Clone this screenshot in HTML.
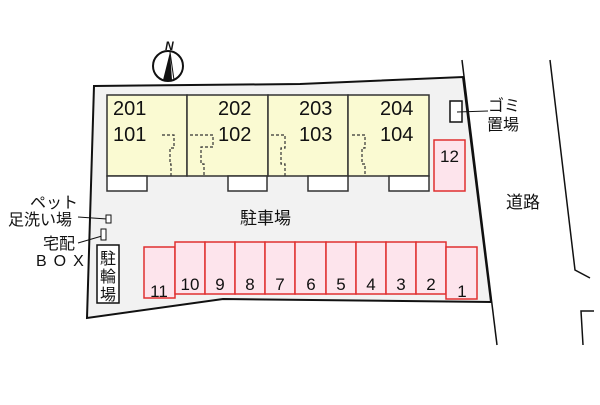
<!DOCTYPE html>
<html><head><meta charset="utf-8"><style>
body{margin:0;background:#fff}
svg text{font-family:"Liberation Sans","Noto Sans CJK JP",sans-serif;fill:#111}
</style></head><body>
<svg width="600" height="400" viewBox="0 0 600 400" xmlns="http://www.w3.org/2000/svg">
<polygon points="94,86 300,84 463,77 491,302 223,299 87,318" fill="#f2f2f2" stroke="#111" stroke-width="2"/>
<line x1="462" y1="60" x2="497" y2="345" stroke="#111" stroke-width="1.5"/>
<polyline points="550,60 575,270 590,278" fill="none" stroke="#111" stroke-width="1.5"/>
<polyline points="594,311 581,311 583,345" fill="none" stroke="#111" stroke-width="1.5"/>
<circle cx="168" cy="66" r="15" fill="#fff" stroke="#111" stroke-width="2"/>
<polygon points="170,52 163,80 172,80" fill="#111"/>
<line x1="170" y1="52" x2="174" y2="80" stroke="#111"/>
<text x="165" y="50" font-size="12" font-style="italic" font-weight="bold">N</text>
<g fill="#fafad2" stroke="#333" stroke-width="1.5">
<rect x="107" y="95" width="80" height="81"/><rect x="187" y="95" width="81" height="81"/>
<rect x="268" y="95" width="80" height="81"/><rect x="348" y="95" width="81" height="81"/>
</g>
<g fill="#fff" stroke="#333" stroke-width="1.5">
<rect x="107" y="176" width="40" height="15"/><rect x="228" y="176" width="39" height="15"/>
<rect x="308" y="176" width="40" height="15"/><rect x="389" y="176" width="40" height="15"/>
</g>
<g fill="none" stroke="#333" stroke-dasharray="3,2" stroke-width="1.2">
<path d="M162,135 H174 V148 H170 V164 H171 V176"/>
<path d="M190,135 H213 V147 H201 V164 H204 V176"/>
<path d="M271,135 H285 V148 H281 V164 H285 V176"/>
<path d="M352,135 H365 V148 H362 V164 H365 V176"/>
</g>
<g font-size="20">
<text x="113" y="115">201</text><text x="113" y="141">101</text>
<text x="218" y="115">202</text><text x="218" y="141">102</text>
<text x="299" y="115">203</text><text x="299" y="141">103</text>
<text x="380" y="115">204</text><text x="380" y="141">104</text>
</g>
<rect x="450" y="101" width="12" height="21" fill="#fff" stroke="#111" stroke-width="1.5"/>
<line x1="457" y1="112" x2="488" y2="111" stroke="#111"/>
<text x="488" y="111" font-size="16">ゴミ</text>
<text x="487" y="130" font-size="16">置場</text>
<rect x="434" y="140" width="31" height="51" fill="#fde4ec" stroke="#e03030" stroke-width="1.5"/>
<text x="440" y="162" font-size="17">12</text>
<text x="506" y="208" font-size="17">道路</text>
<text x="240" y="224" font-size="17">駐車場</text>
<text x="30" y="208" font-size="16">ペット</text>
<text x="8" y="225" font-size="16">足洗い場</text>
<line x1="78" y1="217" x2="107" y2="219" stroke="#111"/>
<rect x="106" y="215" width="5" height="8" fill="#fff" stroke="#111"/>
<text x="43" y="249" font-size="16">宅配</text>
<line x1="78" y1="243" x2="102" y2="236" stroke="#111"/>
<rect x="101" y="229" width="5" height="11" fill="#fff" stroke="#111"/>
<text x="36" y="266" font-size="16" letter-spacing="7">BOX</text>
<rect x="97" y="245" width="22" height="58" fill="#fff" stroke="#111" stroke-width="1.5"/>
<text x="100" y="264" font-size="16">駐</text><text x="100" y="282" font-size="16">輪</text><text x="100" y="300" font-size="16">場</text>
<g fill="#fde4ec" stroke="#e03030" stroke-width="1.5">
<rect x="144" y="247" width="31" height="51"/>
<rect x="175" y="242" width="30" height="52"/><rect x="205" y="242" width="30" height="52"/>
<rect x="235" y="242" width="30" height="52"/><rect x="265" y="242" width="30" height="52"/>
<rect x="295" y="242" width="31" height="52"/><rect x="326" y="242" width="30" height="52"/>
<rect x="356" y="242" width="30" height="52"/><rect x="386" y="242" width="30" height="52"/>
<rect x="416" y="242" width="30" height="52"/>
<rect x="446" y="247" width="31" height="52"/>
</g>
<g font-size="17" text-anchor="middle">
<text x="159" y="297">11</text><text x="190" y="290">10</text><text x="220" y="290">9</text>
<text x="250" y="290">8</text><text x="280" y="290">7</text><text x="311" y="290">6</text>
<text x="341" y="290">5</text><text x="371" y="290">4</text><text x="401" y="290">3</text>
<text x="431" y="290">2</text><text x="462" y="297">1</text>
</g>
</svg>
</body></html>
